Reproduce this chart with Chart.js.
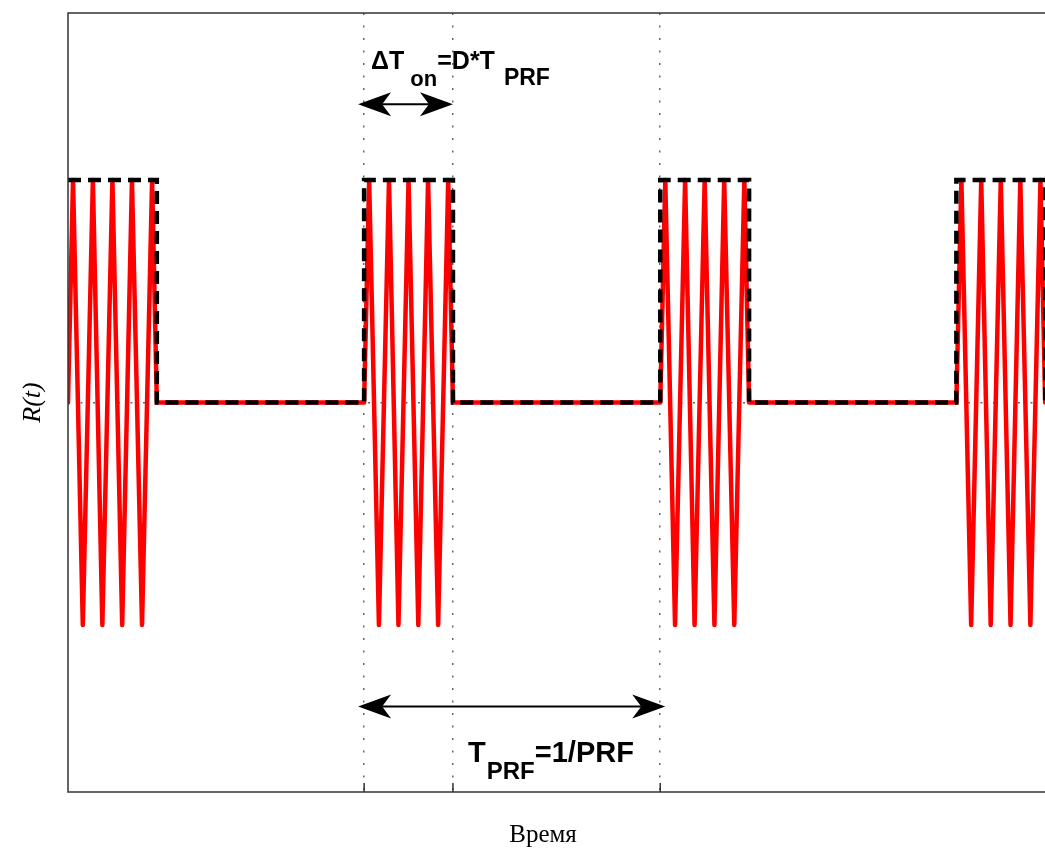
<!DOCTYPE html>
<html>
<head>
<meta charset="utf-8">
<script src="https://cdn.jsdelivr.net/npm/chart.js@4.4.1/dist/chart.umd.min.js"></script>
<style>
  html, body { margin: 0; padding: 0; background: #fff; overflow: hidden; }
  #cadre { width: 1060px; height: 848px; }
</style>
</head>
<body>
<div id="cadre"><canvas id="myChart" width="1060" height="848"></canvas></div>
<script>
// DONNEES

// début de chaque impulsion (en unités de T_PRF)
const debutsImpulsions = [0, 1, 2, 3];
// forme de la porteuse dans une impulsion : décalage + valeur
const decalagesPorteuse = [0, 0.017, 0.05, 0.084, 0.116, 0.15, 0.183, 0.216, 0.25, 0.284, 0.3];
const valeursPorteuse = [0, 1, -1, 1, -1, 1, -1, 1, -1, 1, 0];
// enveloppe carrée (pointillés noirs)
const enveloppeX = [0, 0.3, 0.3, 1, 1, 1.3, 1.3, 2, 2, 2.3, 2.3, 3, 3, 3.3, 3.3, 3.35];
const enveloppeY = [1, 1, 0, 0, 1, 1, 0, 0, 1, 1, 0, 0, 1, 1, 0, 0];
// graduations
const ticksX = [1, 1.3, 2];
const ticksY = [0];
const tempsMax = 3.35;

// on construit les points du signal rouge
var signal = [];
for (var i = 0; i < debutsImpulsions.length; i++) {
  for (var j = 0; j < decalagesPorteuse.length; j++) {
    signal.push({x: debutsImpulsions[i] + decalagesPorteuse[j], y: valeursPorteuse[j]});
  }
}
signal.push({x: tempsMax, y: 0});

var enveloppe = enveloppeX.map(function (x, k) { return {x: x, y: enveloppeY[k]}; });

// flèche double avec têtes pleines
function fleche(ctx, x1, x2, y) {
  var L = 33, H = 12, N = 24;
  ctx.strokeStyle = '#000';
  ctx.fillStyle = '#000';
  ctx.lineWidth = 2;
  ctx.beginPath();
  ctx.moveTo(x1 + N, y);
  ctx.lineTo(x2 - N, y);
  ctx.stroke();
  ctx.beginPath();
  ctx.moveTo(x1, y);
  ctx.lineTo(x1 + L, y - H);
  ctx.lineTo(x1 + N, y);
  ctx.lineTo(x1 + L, y + H);
  ctx.closePath();
  ctx.fill();
  ctx.beginPath();
  ctx.moveTo(x2, y);
  ctx.lineTo(x2 - L, y - H);
  ctx.lineTo(x2 - N, y);
  ctx.lineTo(x2 - L, y + H);
  ctx.closePath();
  ctx.fill();
}

// texte avec indices
function texteIndice(ctx, x, y, morceaux) {
  ctx.fillStyle = '#000';
  ctx.textAlign = 'left';
  ctx.textBaseline = 'alphabetic';
  morceaux.forEach(function (m) {
    x += m.dx || 0;
    ctx.font = m.f;
    ctx.fillText(m.t, x, y + (m.dy || 0));
    x += ctx.measureText(m.t).width;
  });
}

const annotations = {
  id: 'annotations',
  afterDraw: function (chart) {
    var ctx = chart.ctx;
    var a = chart.chartArea;
    var sx = chart.scales.x, sy = chart.scales.y;
    ctx.save();

    // cadre
    ctx.strokeStyle = '#333';
    ctx.lineWidth = 1.5;
    ctx.strokeRect(a.left, a.top, a.right - a.left, a.bottom - a.top);

    // petites graduations en bas
    ticksX.forEach(function (t) {
      var px = sx.getPixelForValue(t);
      ctx.beginPath();
      ctx.moveTo(px, a.bottom);
      ctx.lineTo(px, a.bottom - 9);
      ctx.stroke();
    });

    // flèches
    fleche(ctx, sx.getPixelForValue(1) - 6, sx.getPixelForValue(1.3), sy.getPixelForValue(1.34));
    fleche(ctx, sx.getPixelForValue(1) - 6, sx.getPixelForValue(2) + 5, sy.getPixelForValue(-1.366));

    // textes
    texteIndice(ctx, sx.getPixelForValue(1) + 7, sy.getPixelForValue(1.5), [
      {t: 'ΔT', f: 'bold 25px "Liberation Sans", Arial'},
      {t: 'on', f: 'bold 22px "Liberation Sans", Arial', dx: 6, dy: 17},
      {t: '=D*T', f: 'bold 25px "Liberation Sans", Arial'},
      {t: 'PRF', f: 'bold 23px "Liberation Sans", Arial', dx: 9, dy: 16}
    ]);
    texteIndice(ctx, sx.getPixelForValue(1.351), sy.getPixelForValue(-1.613), [
      {t: 'T', f: 'bold 29px "Liberation Sans", Arial'},
      {t: 'PRF', f: 'bold 24px "Liberation Sans", Arial', dx: 1, dy: 17},
      {t: '=1/PRF', f: 'bold 29px "Liberation Sans", Arial'}
    ]);

    // titres des axes
    ctx.fillStyle = '#000';
    ctx.font = '25px "Liberation Serif", "Times New Roman", serif';
    ctx.textAlign = 'center';
    ctx.textBaseline = 'alphabetic';
    ctx.fillText('Время', 543, 842);

    ctx.translate(33, sy.getPixelForValue(0));
    ctx.rotate(-Math.PI / 2);
    ctx.font = 'italic 26px "Liberation Serif", "Times New Roman", serif';
    ctx.textBaseline = 'middle';
    ctx.fillText('R(t)', 0, 0);

    ctx.restore();
  }
};

const data1 = {
  datasets: [{
    label: 'enveloppe',
    data: enveloppe,
    borderColor: '#000',
    borderWidth: 4.5,
    borderDash: [13, 7],
    borderCapStyle: 'butt',
    pointRadius: 0,
    tension: 0
  }, {
    label: 'R(t)',
    data: signal,
    borderColor: '#ff0000',
    borderWidth: 4.5,
    borderJoinStyle: 'round',
    borderCapStyle: 'round',
    pointRadius: 0,
    tension: 0
  }]
};

const config1 = {
  type: 'line',
  data: data1,
  options: {
    responsive: false,
    animation: false,
    events: [],
    layout: { padding: { left: 68, top: 13, right: 0, bottom: 56 } },
    plugins: { legend: { display: false }, tooltip: { enabled: false } },
    scales: {
      x: {
        type: 'linear',
        min: 0,
        max: tempsMax,
        afterBuildTicks: function (axis) { axis.ticks = ticksX.map(function (v) { return {value: v}; }); },
        ticks: { display: false },
        grid: { color: '#666', lineWidth: 1.5, drawTicks: false },
        border: { display: false, dash: [2, 10.5] }
      },
      y: {
        type: 'linear',
        min: -1.75,
        max: 1.75,
        afterBuildTicks: function (axis) { axis.ticks = ticksY.map(function (v) { return {value: v}; }); },
        ticks: { display: false },
        grid: { color: '#666', lineWidth: 1.5, drawTicks: false },
        border: { display: false, dash: [2, 10.5] }
      }
    }
  },
  plugins: [annotations]
};

var myChart1 = new Chart(document.getElementById('myChart'), config1);
</script>
</body>
</html>
